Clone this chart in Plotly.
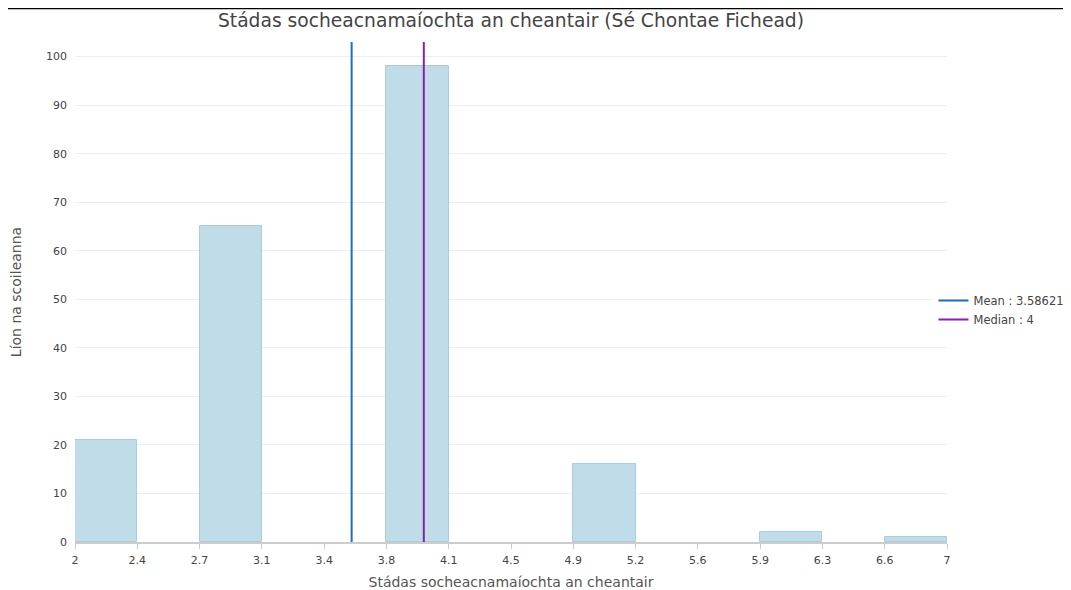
import plotly.graph_objects as go

# =========================================================
# DATA
# =========================================================

bin_edges = [2, 2.357, 2.714, 3.071, 3.429, 3.786, 4.143, 4.5,
             4.857, 5.214, 5.571, 5.929, 6.286, 6.643, 7]
tick_labels = ["2", "2.4", "2.7", "3.1", "3.4", "3.8", "4.1", "4.5",
               "4.9", "5.2", "5.6", "5.9", "6.3", "6.6", "7"]
counts = [21, 0, 65, 0, 0, 98, 0, 0, 16, 0, 0, 2, 0, 1]

mean_value = 3.58621
median_value = 4

y_top = 103

# =========================================================
# FIGURE
# =========================================================

font_family = "DejaVu Sans, Verdana, sans-serif"

# only non-empty bins get a bar
centers, widths, heights = [], [], []
for a, b, c in zip(bin_edges[:-1], bin_edges[1:], counts):
    if c > 0:
        centers.append((a + b) / 2)
        widths.append(b - a)
        heights.append(c)

fig = go.Figure()

fig.add_trace(
    go.Bar(
        x=centers,
        y=heights,
        width=widths,
        marker=dict(color="#c0dce8", line=dict(color="#a8cddc", width=1)),
        showlegend=False,
        hoverinfo="y",
    )
)

fig.add_trace(
    go.Scatter(
        x=[mean_value, mean_value],
        y=[0, y_top],
        mode="lines",
        line=dict(color="#1f6db3", width=2),
        name=f"Mean : {mean_value}",
    )
)

fig.add_trace(
    go.Scatter(
        x=[median_value, median_value],
        y=[0, y_top],
        mode="lines",
        line=dict(color="#8a1faa", width=2),
        name=f"Median : {median_value}",
    )
)

# top border line of the page
fig.add_shape(
    type="line",
    xref="paper",
    yref="paper",
    x0=-0.1,
    x1=1.2,
    y0=1.0675,
    y1=1.0675,
    line=dict(color="black", width=2),
)

# page body adds 8px offset, so the figure is 8px smaller and margins shifted
fig.update_layout(
    width=1063,
    height=582,
    margin=dict(l=67, r=124, t=34, b=48, autoexpand=False),
    paper_bgcolor="white",
    plot_bgcolor="white",
    font=dict(family=font_family, color="#444", size=11),
    title=dict(
        text="Stádas socheacnamaíochta an cheantair (Sé Chontae Fichead)",
        x=(511 - 8) / 1063,
        xanchor="center",
        y=1 - 12 / 582,
        yanchor="middle",
        font=dict(size=18.7, color="#444"),
    ),
    legend=dict(
        x=0.9845,
        y=0.464,
        xanchor="left",
        yanchor="middle",
        font=dict(size=11.5, color="#444"),
        itemwidth=30,
        tracegroupgap=4,
    ),
    bargap=0,
)

fig.update_xaxes(
    range=[bin_edges[0], bin_edges[-1]],
    tickvals=bin_edges,
    ticktext=tick_labels,
    ticks="outside",
    ticklen=5,
    tickcolor="#ccc",
    ticklabelstandoff=2,
    showline=True,
    linecolor="#ccc",
    linewidth=2,
    showgrid=False,
    zeroline=False,
    automargin=False,
    title=dict(text="Stádas socheacnamaíochta an cheantair", font=dict(size=14, color="#555"), standoff=11),
)

fig.update_yaxes(
    range=[0, y_top],
    dtick=10,
    showgrid=True,
    gridcolor="#eeeeee",
    zeroline=False,
    showline=False,
    ticklabelstandoff=7,
    automargin=False,
    title=dict(text="Líon na scoileanna", font=dict(size=14, color="#555"), standoff=26),
)

fig.write_html("out.html")
